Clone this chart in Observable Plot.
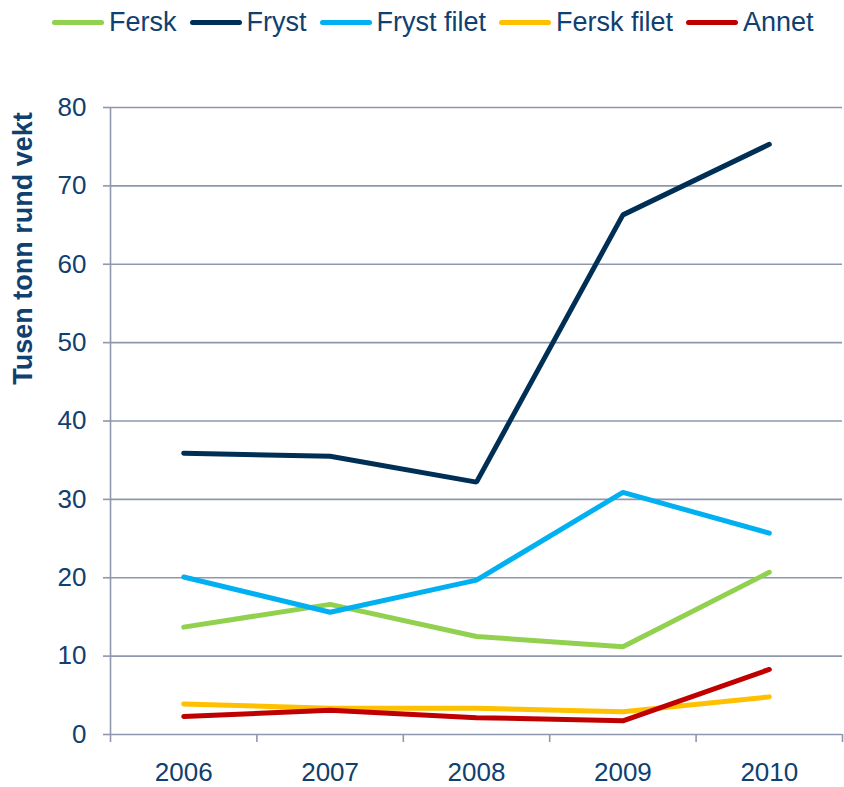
<!DOCTYPE html>
<html>
<head>
<meta charset="utf-8">
<script src="https://cdn.jsdelivr.net/npm/d3@7"></script>
<script src="https://cdn.jsdelivr.net/npm/@observablehq/plot@0.6"></script>
<style>
  html, body { margin: 0; padding: 0; background: #fff; }
  body { width: 844px; height: 787px; position: relative; overflow: hidden; font-family: "Liberation Sans", Arial, sans-serif; }
  #legend { position: absolute; left: 52px; top: 0; height: 45px; display: flex; align-items: center; color: #10406F; font-size: 27px; white-space: nowrap; }
  .item { display: flex; align-items: center; margin-right: 13px; }
  .sw { display: inline-block; width: 52px; height: 5px; border-radius: 3px; margin-right: 5px; }
  #chart { position: absolute; left: 0; top: 45px; }
</style>
</head>
<body>
<div id="legend"></div>
<div id="chart"></div>
<script>
const years = [2006, 2007, 2008, 2009, 2010];
const seriesNames = ["Fersk", "Fryst", "Fryst filet", "Fersk filet", "Annet"];
const seriesColors = ["#92D050", "#002F56", "#00B0F0", "#FFC000", "#C00000"];
const fersk      = [13.7, 16.6, 12.5, 11.2, 20.7];
const fryst      = [35.9, 35.5, 32.2, 66.3, 75.3];
const frystFilet = [20.1, 15.6, 19.7, 30.9, 25.7];
const ferskFilet = [3.9, 3.35, 3.35, 2.9, 4.8];
const annet      = [2.3, 3.1, 2.15, 1.75, 8.3];
const yTicks = [0, 10, 20, 30, 40, 50, 60, 70, 80];
const yTitle = "Tusen tonn rund vekt";

const seriesValues = [fersk, fryst, frystFilet, ferskFilet, annet];
const data = [];
seriesNames.forEach((name, i) => {
  years.forEach((yr, j) => data.push({series: name, year: yr, value: seriesValues[i][j]}));
});

const textColor = "#10406F";
const gridColor = "#8E97AB";
const boundaries = [years[0] - 0.5, ...years.map(y => y + 0.5)];

// Legend
const legend = document.getElementById("legend");
seriesNames.forEach((name, i) => {
  const item = document.createElement("div");
  item.className = "item";
  const sw = document.createElement("span");
  sw.className = "sw";
  sw.style.background = seriesColors[i];
  const t = document.createElement("span");
  t.textContent = name;
  item.appendChild(sw);
  item.appendChild(t);
  legend.appendChild(item);
});

const chart = Plot.plot({
  width: 844,
  height: 742,
  marginTop: 62,
  marginBottom: 53,
  marginLeft: 110,
  marginRight: 2,
  style: {fontFamily: "'Liberation Sans', Arial, sans-serif", fontSize: "26px", background: "#fff", overflow: "visible"},
  x: {type: "linear", domain: [boundaries[0], boundaries[boundaries.length - 1]]},
  y: {domain: [0, 80]},
  color: {domain: seriesNames, range: seriesColors},
  marks: [
    Plot.gridY(yTicks.filter(d => d > 0), {stroke: gridColor, strokeOpacity: 1, strokeWidth: 1.6}),
    Plot.ruleY([0], {stroke: gridColor, strokeWidth: 1.6}),
    Plot.ruleX([boundaries[0]], {stroke: gridColor, strokeWidth: 1.6}),
    Plot.axisY({ticks: yTicks, tickSize: 7, tickPadding: 17, stroke: gridColor, strokeWidth: 1.6, fill: textColor, label: null}),
    Plot.axisX({ticks: boundaries, tickSize: 8, tickFormat: () => "", stroke: gridColor, strokeWidth: 1.6, label: null}),
    Plot.axisX({ticks: years, tickSize: 0, tickPadding: 28, tickFormat: d => String(d), fill: textColor, label: null}),
    Plot.lineY(data, {x: "year", y: "value", z: "series", stroke: "series", strokeWidth: 5, strokeLinecap: "round", strokeLinejoin: "miter"}),
    Plot.text([yTitle], {frameAnchor: "top-left", text: d => d, rotate: -90, dx: -98, dy: 141, fill: textColor, fontWeight: "bold", fontSize: 27, textAnchor: "middle"})
  ]
});
document.getElementById("chart").appendChild(chart);
</script>
</body>
</html>
